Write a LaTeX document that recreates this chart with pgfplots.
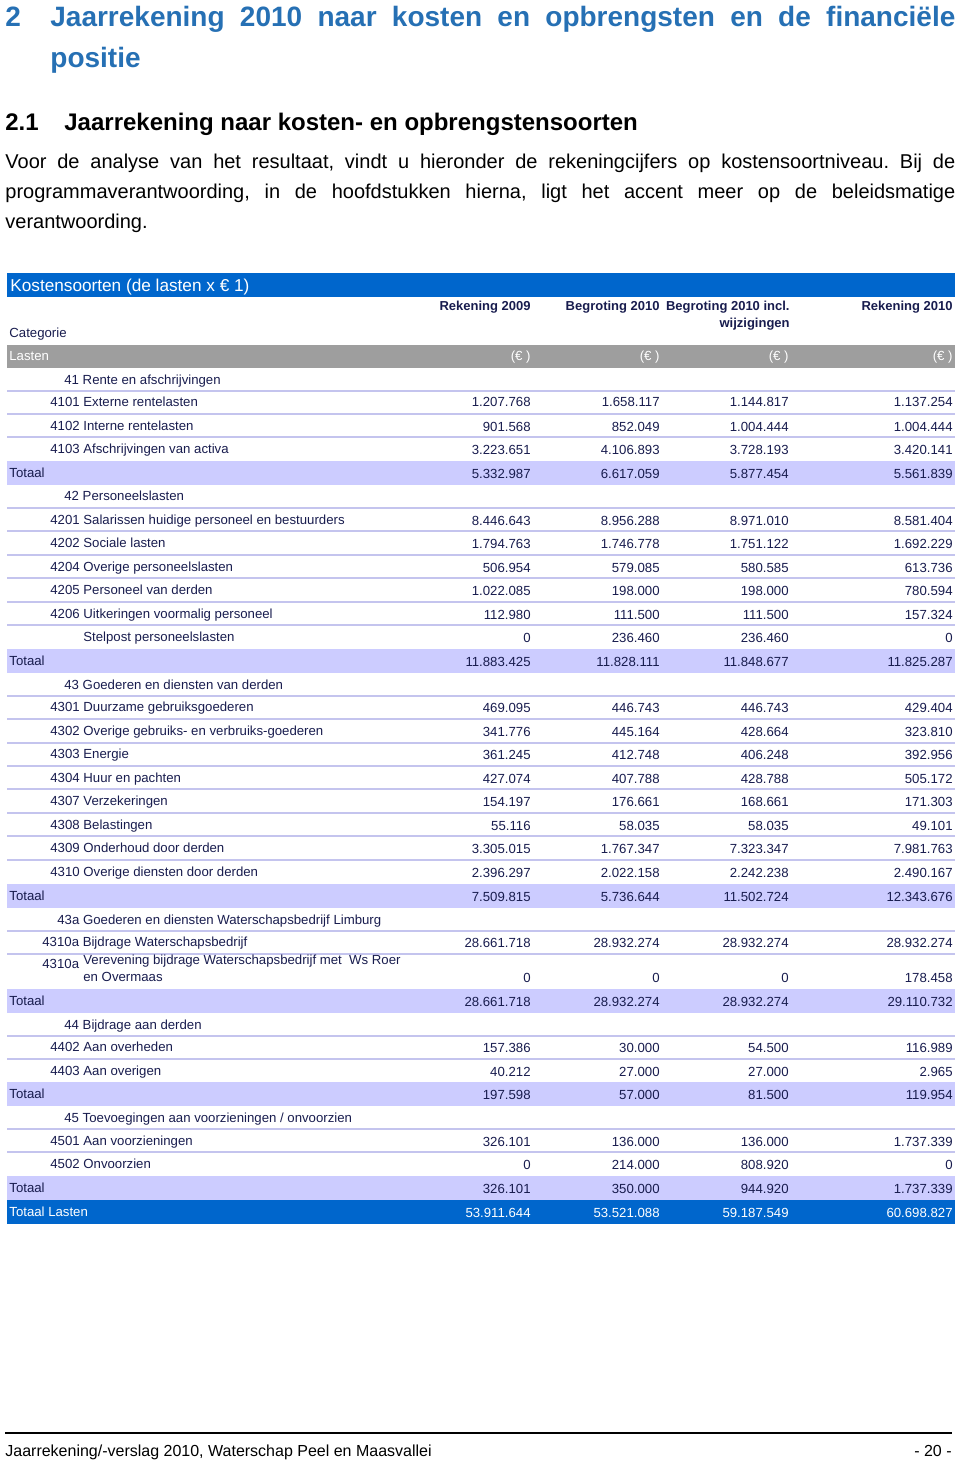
\documentclass[border=0pt]{standalone}
\usepackage{pgfplots}
\pgfplotsset{compat=1.18}
\usepackage{pgfplotstable}
\usepackage{fontspec}
\setmainfont{Liberation Sans}
\frenchspacing
\definecolor{hblue}{RGB}{38,112,180}
\definecolor{barblue}{RGB}{0,102,204}
\definecolor{bargrey}{RGB}{158,158,158}
\definecolor{band}{RGB}{204,204,255}
\definecolor{sep}{RGB}{196,196,238}
\definecolor{navy}{RGB}{24,28,78}
\newcommand\tf{\fontsize{6.6}{8}\selectfont}
\newcommand\hf{\fontsize{6.5}{8}\selectfont\bfseries}

% baseline y (px from top), Rekening 2009, Begroting 2010, Begroting 2010 incl. wijzigingen, Rekening 2010
\pgfplotstableread{
y    r09       b10       b10w      r10
407  1207768   1658117   1144817   1137254
431  901568    852049    1004444   1004444
454  3223651   4106893   3728193   3420141
478  5332987   6617059   5877454   5561839
525  8446643   8956288   8971010   8581404
548  1794763   1746778   1751122   1692229
572  506954    579085    580585    613736
595  1022085   198000    198000    780594
619  112980    111500    111500    157324
642  0         236460    236460    0
666  11883425  11828111  11848677  11825287
712  469095    446743    446743    429404
736  341776    445164    428664    323810
759  361245    412748    406248    392956
783  427074    407788    428788    505172
806  154197    176661    168661    171303
830  55116     58035     58035     49101
853  3305015   1767347   7323347   7981763
877  2396297   2022158   2242238   2490167
901  7509815   5736644   11502724  12343676
947  28661718  28932274  28932274  28932274
982  0         0         0         178458
1006 28661718  28932274  28932274  29110732
1052 157386    30000     54500     116989
1076 40212     27000     27000     2965
1099 197598    57000     81500     119954
1146 326101    136000    136000    1737339
1169 0         214000    808920    0
1193 326101    350000    944920    1737339
}\vals
\pgfplotstableread{
y    r09       b10       b10w      r10
1217 53911644  53521088  59187549  60698827
}\totvals

\pgfplotsset{
  numcol/.style={draw=none, mark=none, point meta=explicit symbolic,
    nodes near coords={\pgfmathprintnumber[fixed,precision=0,1000 sep={.},assume math mode=true]{\pgfplotspointmeta}},
    nodes near coords style={anchor=base east, inner sep=0pt, font=\tf, text=#1}},
}

\begin{document}
\begin{tikzpicture}
% page in pixel units: x to the right, y downward from the top
\begin{scope}[x=0.5pt, y=-0.5pt, shift={(0,730.5pt)}]
\fill[barblue] (7,273) rectangle (955,297);
\fill[bargrey] (7,345) rectangle (955,368);
\foreach \a/\b in {461/485,649/673,884/908,989/1013,1082/1106,1176/1200}
  {\fill[band] (7,\a) rectangle (955,\b);}
\fill[barblue] (7,1200) rectangle (955,1224);
\foreach \l in {391,414,437,508,531,555,578,602,625,696,719,743,766,789,813,836,860,931,954,1036,1059,1129,1152}
  {\draw[sep, line width=1.4pt] (7,\l) -- (955,\l);}

% headings
\node[anchor=base west, inner sep=0pt, text=hblue, font=\fontsize{14}{16}\selectfont\bfseries] at (5,27) {2};
\node[anchor=base west, inner sep=0pt, text=hblue, font=\fontsize{14}{16}\selectfont\bfseries] at (50,27) {\makebox[452.5pt][s]{Jaarrekening 2010 naar kosten en opbrengsten en de financiële}};
\node[anchor=base west, inner sep=0pt, text=hblue, font=\fontsize{14}{16}\selectfont\bfseries] at (50,68) {positie};
\node[anchor=base west, inner sep=0pt, font=\fontsize{12}{14}\selectfont\bfseries] at (5,131) {2.1};
\node[anchor=base west, inner sep=0pt, font=\fontsize{12}{14}\selectfont\bfseries] at (64,131) {Jaarrekening naar kosten- en opbrengstensoorten};
\node[anchor=base west, inner sep=0pt, font=\fontsize{10}{12}\selectfont] at (5,169) {\makebox[475pt][s]{Voor de analyse van het resultaat, vindt u hieronder de rekeningcijfers op kostensoortniveau. Bij de}};
\node[anchor=base west, inner sep=0pt, font=\fontsize{10}{12}\selectfont] at (5,199) {\makebox[475pt][s]{programmaverantwoording, in de hoofdstukken hierna, ligt het accent meer op de beleidsmatige}};
\node[anchor=base west, inner sep=0pt, font=\fontsize{10}{12}\selectfont] at (5,229) {verantwoording.};

% table header
\node[anchor=base west, inner sep=0pt, text=white, font=\fontsize{8.6}{10}\selectfont] at (10,292) {Kostensoorten (de lasten x € 1)};
\node[anchor=base east, inner sep=0pt, text=navy, font=\hf] at (531,311) {Rekening 2009};
\node[anchor=base east, inner sep=0pt, text=navy, font=\hf] at (660,311) {Begroting 2010};
\node[anchor=base east, inner sep=0pt, text=navy, font=\hf] at (790,311) {Begroting 2010 incl.};
\node[anchor=base east, inner sep=0pt, text=navy, font=\hf] at (790,328) {wijzigingen};
\node[anchor=base east, inner sep=0pt, text=navy, font=\hf] at (953,311) {Rekening 2010};
\node[anchor=base west, inner sep=0pt, text=navy, font=\tf] at (9,338) {Categorie};
\node[anchor=base west, inner sep=0pt, text=white, font=\tf] at (9,361) {Lasten};
\foreach \xx in {531,660,789,953}
  {\node[anchor=base east, inner sep=0pt, text=white, font=\tf] at (\xx,361) {(€ )};}

% row labels
\foreach \xx/\yy/\lab in {
  64/385/41 Rente en afschrijvingen,
  50/407/4101 Externe rentelasten,
  50/431/4102 Interne rentelasten,
  50/454/4103 Afschrijvingen van activa,
  9/478/Totaal,
  64/501/42 Personeelslasten,
  50/525/4201 Salarissen huidige personeel en bestuurders,
  50/548/4202 Sociale lasten,
  50/572/4204 Overige personeelslasten,
  50/595/4205 Personeel van derden,
  50/619/4206 Uitkeringen voormalig personeel,
  83/642/Stelpost personeelslasten,
  9/666/Totaal,
  64/690/43 Goederen en diensten van derden,
  50/712/4301 Duurzame gebruiksgoederen,
  50/736/4302 Overige gebruiks- en verbruiks-goederen,
  50/759/4303 Energie,
  50/783/4304 Huur en pachten,
  50/806/4307 Verzekeringen,
  50/830/4308 Belastingen,
  50/853/4309 Onderhoud door derden,
  50/877/4310 Overige diensten door derden,
  9/901/Totaal,
  57/925/43a Goederen en diensten Waterschapsbedrijf Limburg,
  42/947/4310a Bijdrage Waterschapsbedrijf,
  42/969/4310a,
  83/965/Verevening bijdrage Waterschapsbedrijf met\ \ Ws Roer,
  83/982/en Overmaas,
  9/1006/Totaal,
  64/1030/44 Bijdrage aan derden,
  50/1052/4402 Aan overheden,
  50/1076/4403 Aan overigen,
  9/1099/Totaal,
  64/1123/{45 Toevoegingen aan voorzieningen / onvoorzien},
  50/1146/4501 Aan voorzieningen,
  50/1169/4502 Onvoorzien,
  9/1193/Totaal}
  {\node[anchor=base west, inner sep=0pt, text=navy, font=\tf] at (\xx,\yy) {\lab};}
\node[anchor=base west, inner sep=0pt, text=white, font=\tf] at (9,1217) {Totaal Lasten};

% footer
\draw[black, line width=1pt] (5,1433) -- (952,1433);
\node[anchor=base west, inner sep=0pt, font=\fontsize{8}{10}\selectfont] at (5,1457) {Jaarrekening/-verslag 2010, Waterschap Peel en Maasvallei};
\node[anchor=base east, inner sep=0pt, font=\fontsize{8}{10}\selectfont] at (952,1457) {- 20 -};
\end{scope}

\begin{axis}[
  at={(0,0)}, anchor=south west,
  width=480pt, height=730.5pt, scale only axis, hide axis,
  xmin=0, xmax=960, ymin=0, ymax=1461, y dir=reverse, clip=false]
\addplot[numcol=navy] table[x expr=531, y=y, meta=r09] {\vals};
\addplot[numcol=navy] table[x expr=660, y=y, meta=b10] {\vals};
\addplot[numcol=navy] table[x expr=789, y=y, meta=b10w] {\vals};
\addplot[numcol=navy] table[x expr=953, y=y, meta=r10] {\vals};
\addplot[numcol=white] table[x expr=531, y=y, meta=r09] {\totvals};
\addplot[numcol=white] table[x expr=660, y=y, meta=b10] {\totvals};
\addplot[numcol=white] table[x expr=789, y=y, meta=b10w] {\totvals};
\addplot[numcol=white] table[x expr=953, y=y, meta=r10] {\totvals};
\end{axis}
\pgfresetboundingbox
\path (0,0) rectangle (480pt,730.5pt);
\end{tikzpicture}
\end{document}
